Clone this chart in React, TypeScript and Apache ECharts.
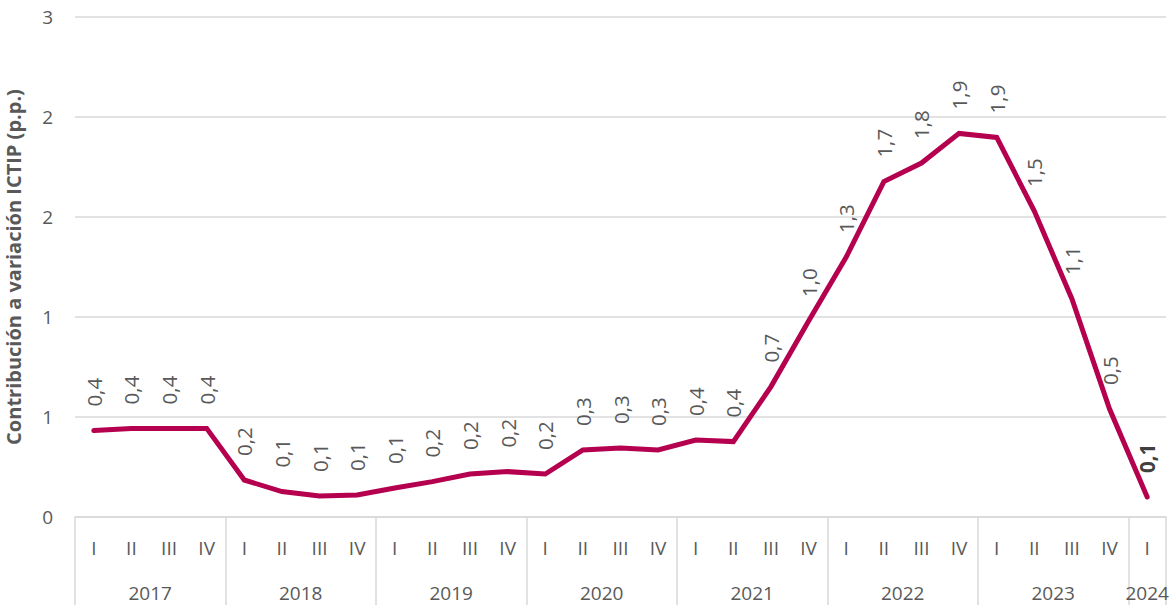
import React, { useEffect, useRef } from "react";
import * as echarts from "echarts";

const quarters = [
  "I", "II", "III", "IV",
  "I", "II", "III", "IV",
  "I", "II", "III", "IV",
  "I", "II", "III", "IV",
  "I", "II", "III", "IV",
  "I", "II", "III", "IV",
  "I", "II", "III", "IV",
  "I",
];

const years = ["2017", "2018", "2019", "2020", "2021", "2022", "2023", "2024"];
const quartersPerYear = [4, 4, 4, 4, 4, 4, 4, 1];

const values = [
  0.432, 0.443, 0.443, 0.443,
  0.185, 0.127, 0.105, 0.11,
  0.145, 0.177, 0.215, 0.227,
  0.215, 0.335, 0.345, 0.335,
  0.385, 0.377, 0.652, 0.98,
  1.3, 1.677, 1.77, 1.918,
  1.898, 1.53, 1.09, 0.54,
  0.1,
];

const yTicks = { min: 0, max: 2.5, interval: 0.5 };

const GRAY = "#595959";
const GRID = "#D9D9D9";
const LINE = "#B4004E";
const FONT = "'Open Sans', 'Noto Sans', sans-serif";

export default function App() {
  const ref = useRef<HTMLDivElement>(null);

  useEffect(() => {
    document.body.style.margin = "0";
    if (!ref.current) return;
    const chart = echarts.init(ref.current, undefined, { renderer: "svg" });

    const total = quarters.length * 2 + 1;
    const yearData: string[] = new Array(total).fill("");
    const boundaries = new Set<number>();
    let pos = 0;
    boundaries.add(0);
    years.forEach((y, i) => {
      const n = quartersPerYear[i];
      yearData[pos + n] = y;
      pos += n * 2;
      boundaries.add(pos);
    });

    const seriesData = values.map((v, i) =>
      i === values.length - 1
        ? { value: v, label: { fontWeight: "bold", color: "#404040" } }
        : v
    );

    chart.setOption({
      animation: false,
      textStyle: { fontFamily: FONT },
      grid: {
        left: 75,
        right: 4,
        top: 17,
        bottom: 88,
        containLabel: false,
        outerBoundsMode: "none",
      },
      xAxis: [
        {
          type: "category",
          data: quarters,
          boundaryGap: true,
          axisTick: { show: false },
          axisLine: { show: true, lineStyle: { color: GRID, width: 1.5 } },
          axisLabel: {
            color: GRAY,
            fontSize: 19,
            fontFamily: FONT,
            margin: 21,
            interval: 0,
          },
        },
        {
          type: "category",
          data: yearData,
          boundaryGap: false,
          position: "bottom",
          axisLine: { show: false },
          axisTick: {
            show: true,
            length: 88,
            interval: (i: number) => boundaries.has(i),
            lineStyle: { color: GRID, width: 1.5 },
          },
          axisLabel: {
            color: GRAY,
            fontSize: 19,
            fontFamily: FONT,
            margin: 66,
            interval: (i: number, v: string) => v !== "",
          },
          splitLine: { show: false },
        },
      ],
      yAxis: {
        type: "value",
        min: yTicks.min,
        max: yTicks.max,
        interval: yTicks.interval,
        name: "Contribución a variación ICTIP (p.p.)",
        nameLocation: "middle",
        nameGap: 52,
        nameRotate: 90,
        nameTextStyle: {
          color: GRAY,
          fontSize: 20,
          fontWeight: "bold",
          fontFamily: FONT,
        },
        axisLine: { show: false },
        axisTick: { show: false },
        axisLabel: {
          color: GRAY,
          fontSize: 19,
          fontFamily: FONT,
          margin: 22,
          formatter: (v: number) => String(Math.round(v)),
        },
        splitLine: { show: true, lineStyle: { color: GRID, width: 1.5 } },
      },
      series: [
        {
          type: "line",
          data: seriesData,
          xAxisIndex: 0,
          symbol: "circle",
          symbolSize: 2,
          showSymbol: true,
          lineStyle: { color: LINE, width: 5, cap: "round", join: "miter" },
          itemStyle: { color: LINE },
          label: {
            show: true,
            position: "top",
            distance: 23,
            rotate: 90,
            align: "left",
            verticalAlign: "middle",
            color: GRAY,
            fontSize: 20.5,
            fontFamily: FONT,
            formatter: (p: any) => Number(p.value).toFixed(1).replace(".", ","),
          },
        },
      ],
    });

    return () => chart.dispose();
  }, []);

  return <div ref={ref} style={{ width: 1170, height: 605 }} />;
}
